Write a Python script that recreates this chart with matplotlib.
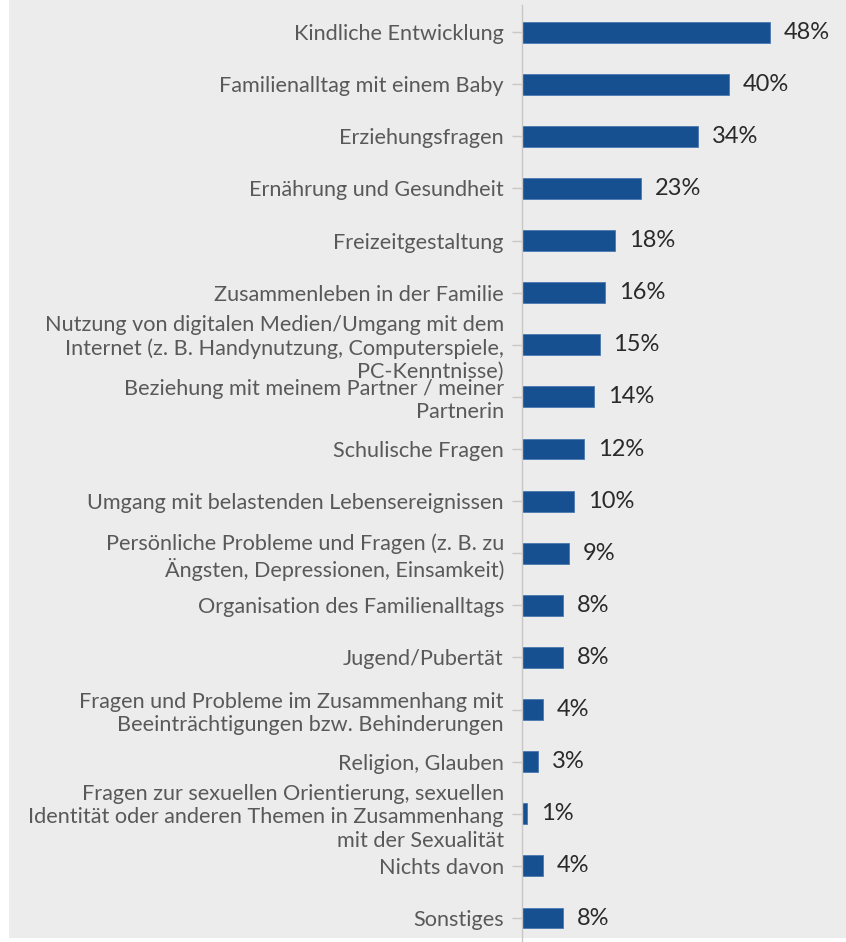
import matplotlib.pyplot as plt
from matplotlib.patches import Rectangle

# Themen und Anteile
themen = [
    "Kindliche Entwicklung",
    "Familienalltag mit einem Baby",
    "Erziehungsfragen",
    "Ernährung und Gesundheit",
    "Freizeitgestaltung",
    "Zusammenleben in der Familie",
    "Nutzung von digitalen Medien/Umgang mit dem\nInternet (z. B. Handynutzung, Computerspiele,\nPC-Kenntnisse)",
    "Beziehung mit meinem Partner / meiner\nPartnerin",
    "Schulische Fragen",
    "Umgang mit belastenden Lebensereignissen",
    "Persönliche Probleme und Fragen (z. B. zu\nÄngsten, Depressionen, Einsamkeit)",
    "Organisation des Familienalltags",
    "Jugend/Pubertät",
    "Fragen und Probleme im Zusammenhang mit\nBeeinträchtigungen bzw. Behinderungen",
    "Religion, Glauben",
    "Fragen zur sexuellen Orientierung, sexuellen\nIdentität oder anderen Themen in Zusammenhang\nmit der Sexualität",
    "Nichts davon",
    "Sonstiges",
]
anteile = [48, 40, 34, 23, 18, 16, 15, 14, 12, 10, 9, 8, 8, 4, 3, 1, 4, 8]

plt.rcParams['font.family'] = ['Lato', 'DejaVu Sans']

W, H = 846, 942
fig = plt.figure(figsize=(W / 100, H / 100), dpi=100)
fig.patches.append(Rectangle((9 / W, 4 / H), 1, 1, transform=fig.transFigure,
                             facecolor='#ececec', edgecolor='none', zorder=-10))

ax = fig.add_axes([522 / W, 0, 310 / W, 937 / H])
ax.set_facecolor('none')

y = list(range(len(themen)))
ax.barh(y, anteile, height=0.4, color='#175090', edgecolor='#4a78b0', linewidth=0.6)
for yi, v in zip(y, anteile):
    ax.text(v + 2.7, yi, f"{v}%", va='center', ha='left', fontsize=17, color='#2a2a2a')

ax.set_xlim(0, 60)
ax.set_ylim(17.46, -0.52)
ax.set_yticks(y)
ax.set_yticklabels(themen, fontsize=15.6, color='#595959', linespacing=1.2)
ax.set_xticks([])
ax.tick_params(axis='y', length=7, width=1, color='#c8c8c8', pad=6)
for s in ['top', 'right', 'bottom']:
    ax.spines[s].set_visible(False)
ax.spines['left'].set_color('#c8c8c8')
ax.spines['left'].set_linewidth(1)

fig.savefig('out.png', dpi=100)
